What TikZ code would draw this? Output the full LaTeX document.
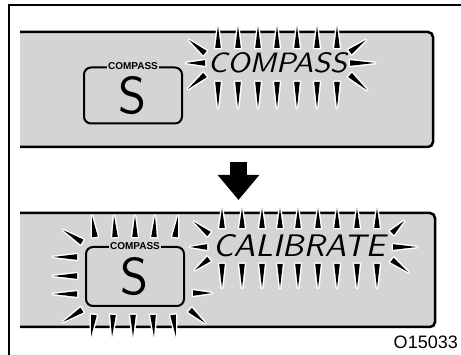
\documentclass[tikz,border=0pt]{standalone}
\usepackage{fontspec}
\usepackage{graphicx}
\usepackage{tikz}
\usetikzlibrary{positioning, arrows.meta, calc}
\newfontfamily\labelfont{Liberation Sans}
\definecolor{lcdgray}{RGB}{212,212,212}
% one flashing ray: base point, tip point
\newcommand{\spike}[2]{\fill[spike] ($#1!2.8pt!90:#2$) -- #2 -- ($#1!2.8pt!-90:#2$) -- cycle;}

\begin{document}
\begin{tikzpicture}[
    x=1pt, y=-1pt,
    >=Stealth,
    frame/.style={draw=black, line width=1.5pt},
    panel/.style={fill=lcdgray, draw=black, line width=2.5pt, rounded corners=5pt},
    spike/.style={fill=black, preaction={draw=white, line width=3pt, line join=round}},
    dirbox/.style={draw, line width=2pt, rounded corners=7pt, minimum width=98pt, minimum height=56pt, inner sep=0pt},
    boxlabel/.style={fill=lcdgray, inner sep=1.5pt, font=\labelfont\fontsize{10}{10}\selectfont\bfseries},
    lcdtext/.style={inner sep=0pt},
]
\useasboundingbox (0,0) rectangle (461,355);

% === Outer frame ===
\draw[frame] (9,360) -- (9,5) -- (470,5);

% === Display panels ===
\path[panel] (20,32) -- (433,32) -- (433,147) -- (20,147);
\path[panel] (20,213) -- (435,213) -- (435,327) -- (20,327);

% --- Upper display: flashing COMPASS ---
\foreach \rx in {218,238,258,277,297,317,337} {
    \spike{(\rx,48)}{(\rx,26)}
    \spike{(\rx,82)}{(\rx,108)}
}
\spike{(205,63)}{(186,63)}
\spike{(205,53)}{(189,40)}
\spike{(205,75)}{(188,89)}
\spike{(350,63)}{(375,63)}
\spike{(350,52)}{(366,40)}
\spike{(350,75)}{(367,90)}

\node[lcdtext] (msg1) at (277.5,63) {\resizebox{139pt}{20pt}{\sffamily\slshape COMPASS}};

\node[dirbox] (dir1) at (133,95.5) {\resizebox{28pt}{37pt}{\sffamily S}};
\node[boxlabel] (lab1) at (dir1.north) {COMPASS};

% --- Lower display: flashing CALIBRATE ---
\foreach \rx in {222,242,262,280,298,318,337,357,377} {
    \spike{(\rx,228)}{(\rx,208)}
    \spike{(\rx,264)}{(\rx,288)}
}
\spike{(207,247)}{(190,247)}
\spike{(209,234)}{(194,222)}
\spike{(209,259)}{(195,270)}
\spike{(393,247)}{(417,247)}
\spike{(392,233)}{(404,221)}
\spike{(392,260)}{(408,272)}

\node[lcdtext] (msg2) at (299,246) {\resizebox{172pt}{22pt}{\sffamily\slshape CALIBRATE}};

% --- Lower display: flashing direction box ---
\foreach \bx/\tx in {95/92,115/114,135/135,154/155,175/178} {
    \spike{(\bx,237)}{(\tx,216)}
}
\foreach \bx/\tx in {94/91,113/112,133/133,153/154,173/176} {
    \spike{(\bx,315)}{(\tx,337)}
}
\foreach \ry in {257,276,294} {
    \spike{(77,\ry)}{(53,\ry)}
}
\spike{(82,242)}{(63,230)}
\spike{(82,310)}{(63,322)}
\spike{(193,293)}{(212,293)}
\spike{(190,310)}{(205,323)}

\node[dirbox, minimum height=59pt] (dir2) at (135,276.5) {\resizebox{28pt}{37pt}{\sffamily S}};
\node[boxlabel] (lab2) at (dir2.north) {COMPASS};

% === Step arrow ===
\coordinate (arrtop) at (238.5,162);
\coordinate (arrtip) at (238.5,200);
\draw[line width=17pt, -{Triangle[length=25pt, width=40pt]}] (arrtop) -- (arrtip);

% === Figure code ===
\node[anchor=base east, inner sep=0pt, font=\labelfont\fontsize{18}{18}\selectfont] (figcode) at (458,349) {O15033};

\end{tikzpicture}
\end{document}
